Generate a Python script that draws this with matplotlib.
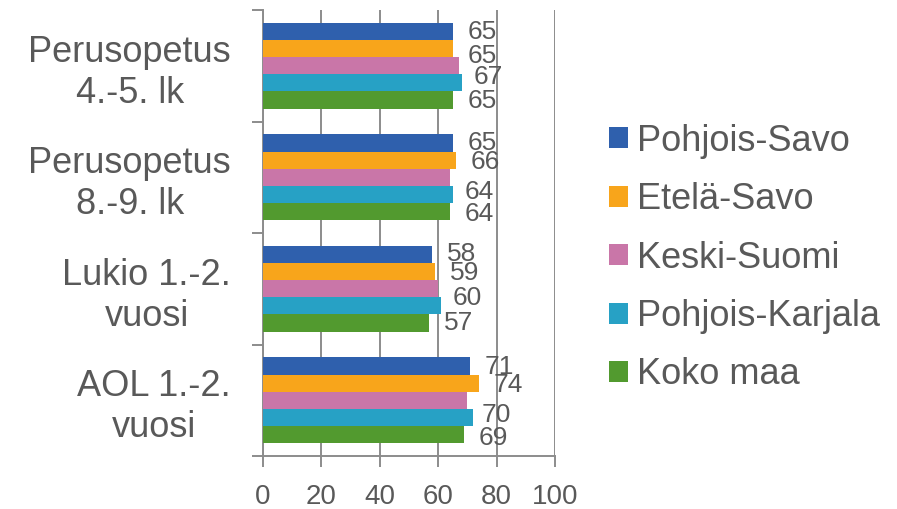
import numpy as np
import matplotlib
matplotlib.use("Agg")
import matplotlib.pyplot as plt

# data
categories = ["Perusopetus\n4.-5. lk", "Perusopetus\n8.-9. lk",
              "Lukio 1.-2.\nvuosi", "AOL 1.-2.\nvuosi"]
series = ["Pohjois-Savo", "Etelä-Savo", "Keski-Suomi", "Pohjois-Karjala", "Koko maa"]
pohjois_savo = [65, 65, 58, 71]
etela_savo = [65, 66, 59, 74]
keski_suomi = [67, 64, 60, 70]
pohjois_karjala = [68, 65, 61, 72]
koko_maa = [65, 64, 57, 69]
values = [pohjois_savo, etela_savo, keski_suomi, pohjois_karjala, koko_maa]
# data labels as shown (Pohjois-Karjala labels are hidden behind the others)
shown = [True, True, True, False, True]

colors = ["#2F60AD", "#F8A51B", "#C976A8", "#27A1C5", "#529A2F"]
txt = "#595959"
axcol = "#8C8C8C"

# vertical nudge of each shown label, in pixels (down = positive)
nudge = [[1, 7, 11, 0, 1],
         [0, 2, 15, 0, 2],
         [0, 1, 9, 0, 0],
         [1, 2, 15, 0, 3]]

plt.rcParams["font.family"] = ["Liberation Sans", "DejaVu Sans"]

fig = plt.figure(figsize=(8.97, 5.09), dpi=100)
ax = fig.add_axes([263 / 897, 1 - 456 / 509, (555 - 263) / 897, (456 - 10) / 509])

n = len(series)
gap = 1.5
h = 1.0 / (n + gap)
y = np.arange(len(categories))
for i, (name, vals) in enumerate(zip(series, values)):
    pos = y - 0.5 + h * gap / 2 + h * (i + 0.5)
    bars = ax.barh(pos, vals, height=h, color=colors[i], label=name, zorder=3)
    if shown[i]:
        for j, (b, v) in enumerate(zip(bars, vals)):
            ax.annotate(str(v), (v, pos[j]), xytext=(10.5, -nudge[j][i] * 0.72),
                        textcoords="offset points", ha="left", va="center",
                        fontsize=19, color=txt, zorder=4)

ax.set_xlim(0, 100)
ax.set_ylim(len(categories) - 0.5, -0.5)
ax.set_xticks(np.arange(0, 101, 20))
ax.xaxis.grid(True, color=axcol, linewidth=1.4, zorder=0)
ax.set_yticks(np.arange(-0.5, len(categories), 1))
ax.set_yticklabels([])
ax.set_yticks(y, minor=True)
ax.set_yticklabels(categories, minor=True, fontsize=26, color=txt,
                   multialignment="center", linespacing=1.22)
ax.tick_params(axis="y", which="major", length=8, width=1.4, color=axcol, direction="out")
ax.tick_params(axis="y", which="minor", length=0, pad=23)
ax.tick_params(axis="x", length=8, width=1.4, color=axcol, labelsize=20,
               labelcolor=txt, pad=12)
for s in ["top", "right"]:
    ax.spines[s].set_visible(False)
for s in ["left", "bottom"]:
    ax.spines[s].set_color(axcol)
    ax.spines[s].set_linewidth(1.4)

fig.legend(loc="center left", bbox_to_anchor=(609 / 897, 1 - 258 / 509), frameon=False,
           fontsize=26, labelcolor=txt, handlelength=0.53, handleheight=0.53,
           handletextpad=0.24, labelspacing=0.65, borderpad=0, borderaxespad=0)

fig.savefig("out.png", dpi=100)
